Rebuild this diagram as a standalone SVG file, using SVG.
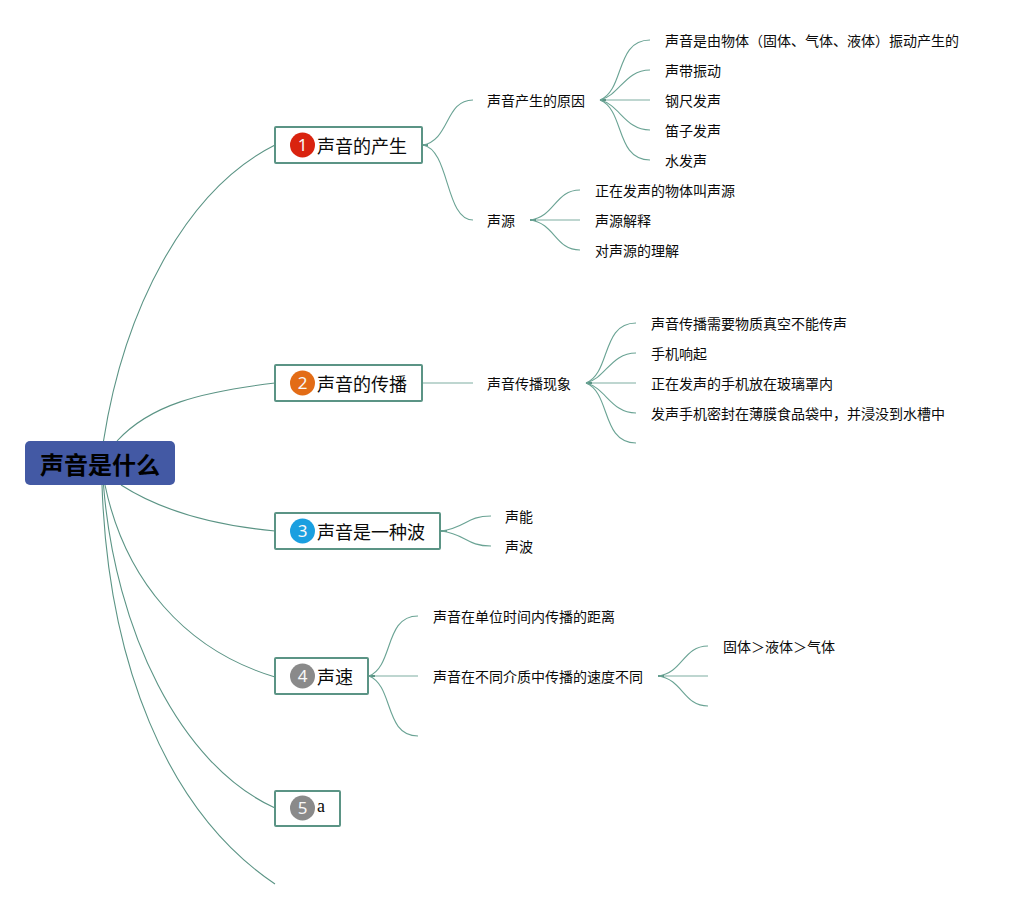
<svg xmlns="http://www.w3.org/2000/svg" width="1019" height="909" viewBox="0 0 1019 909">
<style>
text{font-family:"Noto Sans CJK SC","Liberation Sans",sans-serif;fill:#0a0a0a}
.l{font-size:14px}
.t{font-size:18px}
.r{font-size:24px;font-weight:700;fill:#000}
.n{fill:#fff;stroke:#5b9485;stroke-width:2}
.b{fill:#f8f8f8;font-family:"Noto Sans",sans-serif;font-size:17px;text-anchor:middle}
.c{fill:none;stroke:#5b9485;stroke-width:1.1}
.f{fill:none;stroke:#6aa394;stroke-width:1.1}
.s{fill:none;stroke:#a9c9c0;stroke-width:1.5}
.h{fill:none;stroke:#5b9485;stroke-width:2}
</style>
<rect width="1019" height="909" fill="#fff"/>
<g id="connectors">
<path class="c" d="M103.500 441C124 310 185 190 275 145"/>
<path class="c" d="M117 441C150 405 200 392 275 383"/>
<path class="c" d="M121 485C160 510 210 525 275 531"/>
<path class="c" d="M105 485C125 580 185 650 275 677"/>
<path class="c" d="M103.500 485C115 630 180 765 275 808"/>
<path class="c" d="M102 485C108 660 165 810 275 884"/>
<path class="h" d="M423 145H428"/>
<path class="f" d="M423 145C450 140 445 100 473 100"/>
<path class="f" d="M423 145C450 150 445 220 473 220"/>
<path class="h" d="M600 100H606"/>
<path class="f" d="M600 100C625 90 615 40 650 40"/>
<path class="f" d="M600 100C620 95 625 70 650 70"/>
<path class="s" d="M606 100H650"/>
<path class="f" d="M600 100C620 105 625 130 650 130"/>
<path class="f" d="M600 100C625 110 615 160 650 160"/>
<path class="h" d="M530 220H536"/>
<path class="f" d="M530 220C555 217 555 190 580 190"/>
<path class="s" d="M536 220H580"/>
<path class="f" d="M530 220C555 223 555 250 580 250"/>
<path class="s" d="M423 383H473"/>
<path class="h" d="M586 383H592"/>
<path class="f" d="M586 383C611 373 601 323 636 323"/>
<path class="f" d="M586 383C606 378 611 353 636 353"/>
<path class="s" d="M592 383H636"/>
<path class="f" d="M586 383C606 388 611 413 636 413"/>
<path class="f" d="M586 383C611 393 601 443 636 443"/>
<path class="h" d="M441 531H447"/>
<path class="f" d="M441 531C466 528 466 516 491 516"/>
<path class="f" d="M441 531C466 534 466 546 491 546"/>
<path class="h" d="M369 676H375"/>
<path class="f" d="M369 676C394 666 384 616 418 616"/>
<path class="s" d="M375 676H418"/>
<path class="f" d="M369 676C394 686 384 736 418 736"/>
<path class="h" d="M658 676H664"/>
<path class="f" d="M658 676C683 673 683 646 708 646"/>
<path class="s" d="M664 676H708"/>
<path class="f" d="M658 676C683 679 683 706 708 706"/>
</g>
<g id="root"><rect x="25" y="441" width="150" height="44" rx="5" fill="#4359a4"/><text class="r" x="40" y="474">声音是什么</text></g>
<g id="n1"><rect class="n" x="275" y="127" width="147" height="36" rx="1"/><circle cx="302.500" cy="145" r="12.500" fill="#d9230f"/><text class="b" x="302.500" y="151">1</text><text class="t" x="317" y="153">声音的产生</text></g>
<g id="n2"><rect class="n" x="275" y="365" width="147" height="36" rx="1"/><circle cx="302.500" cy="383" r="12.500" fill="#e36c16"/><text class="b" x="302.500" y="389">2</text><text class="t" x="317" y="391">声音的传播</text></g>
<g id="n3"><rect class="n" x="275" y="513" width="165" height="36" rx="1"/><circle cx="302.500" cy="531" r="12.500" fill="#1a9fe0"/><text class="b" x="302.500" y="537">3</text><text class="t" x="317" y="539">声音是一种波</text></g>
<g id="n4"><rect class="n" x="275" y="658" width="93" height="36" rx="1"/><circle cx="302.500" cy="676" r="12.500" fill="#8a8a8a"/><text class="b" x="302.500" y="682">4</text><text class="t" x="317" y="684">声速</text></g>
<g id="n5"><rect class="n" x="275" y="791" width="65" height="35" rx="1"/><circle cx="302.500" cy="808" r="12.500" fill="#8a8a8a"/><text class="b" x="302.500" y="814">5</text><text x="317" y="812" style="font-family:'Liberation Serif',serif;font-size:18px">a</text></g>
<g id="leaves">
<text class="l" x="487" y="106">声音产生的原因</text>
<text class="l" x="487" y="226">声源</text>
<text class="l" x="665" y="46">声音是由物体（固体、气体、液体）振动产生的</text>
<text class="l" x="665" y="76">声带振动</text>
<text class="l" x="665" y="106">钢尺发声</text>
<text class="l" x="665" y="136">笛子发声</text>
<text class="l" x="665" y="166">水发声</text>
<text class="l" x="595" y="196">正在发声的物体叫声源</text>
<text class="l" x="595" y="226">声源解释</text>
<text class="l" x="595" y="256">对声源的理解</text>
<text class="l" x="487" y="389">声音传播现象</text>
<text class="l" x="651" y="329">声音传播需要物质真空不能传声</text>
<text class="l" x="651" y="359">手机响起</text>
<text class="l" x="651" y="389">正在发声的手机放在玻璃罩内</text>
<text class="l" x="651" y="419">发声手机密封在薄膜食品袋中，并浸没到水槽中</text>
<text class="l" x="505" y="522">声能</text>
<text class="l" x="505" y="552">声波</text>
<text class="l" x="433" y="622">声音在单位时间内传播的距离</text>
<text class="l" x="433" y="682">声音在不同介质中传播的速度不同</text>
<text class="l" x="723" y="652">固体＞液体＞气体</text>
</g>
</svg>
